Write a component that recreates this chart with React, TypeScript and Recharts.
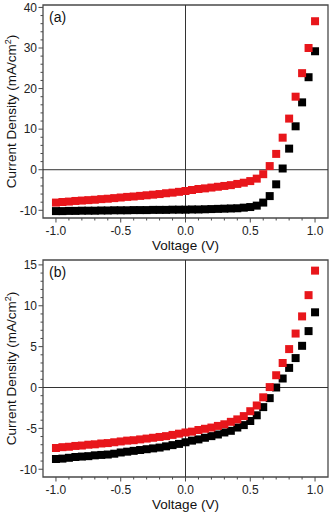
import React from "react";
import {
  ReferenceArea,
  ReferenceLine,
  Scatter,
  ScatterChart,
  XAxis,
  YAxis,
  ZAxis,
} from "recharts";

const voltage = [
  -1.0, -0.95, -0.9, -0.85, -0.8, -0.75, -0.7, -0.65, -0.6, -0.55, -0.5, -0.45,
  -0.4, -0.35, -0.3, -0.25, -0.2, -0.15, -0.1, -0.05, 0.0, 0.05, 0.1, 0.15, 0.2,
  0.25, 0.3, 0.35, 0.4, 0.45, 0.5, 0.55, 0.6, 0.65, 0.7, 0.75, 0.8, 0.85, 0.9,
  0.95, 1.0,
];

// panel (a)
const blackA = [
  -10.2, -10.2, -10.15, -10.15, -10.1, -10.1, -10.1, -10.05, -10.05, -10.0,
  -10.0, -10.0, -9.95, -9.95, -9.95, -9.9, -9.9, -9.9, -9.85, -9.85, -9.85,
  -9.8, -9.8, -9.75, -9.7, -9.65, -9.6, -9.55, -9.5, -9.35, -9.2, -8.85, -8.1,
  -6.5, -3.6, 0.3, 5.2, 10.7, 16.6, 22.8, 29.2,
];
const redA = [
  -8.1, -7.95, -7.85, -7.7, -7.6, -7.5, -7.4, -7.25, -7.15, -7.0, -6.85, -6.7,
  -6.6, -6.45, -6.3, -6.15, -6.0, -5.8, -5.65, -5.45, -5.25, -5.0, -4.75, -4.6,
  -4.4, -4.2, -4.0, -3.8, -3.5, -3.2, -2.8, -2.2, -1.1, 0.9, 3.9, 7.9, 12.6,
  18.0, 23.8, 30.0, 36.6,
];

// panel (b)
const blackB = [
  -8.75, -8.7, -8.6, -8.5, -8.45, -8.4, -8.3, -8.25, -8.2, -8.1, -7.95, -7.85,
  -7.75, -7.65, -7.55, -7.45, -7.35, -7.2, -7.05, -6.9, -6.7, -6.5, -6.35,
  -6.15, -5.95, -5.75, -5.5, -5.3, -4.9, -4.6, -4.1, -3.4, -2.4, -1.3, 0.0, 1.1,
  2.4, 3.6, 5.1, 6.9, 9.2,
];
const redB = [
  -7.4, -7.3, -7.25, -7.15, -7.1, -7.0, -6.95, -6.85, -6.8, -6.7, -6.6, -6.5,
  -6.45, -6.35, -6.25, -6.15, -6.05, -5.95, -5.8, -5.65, -5.5, -5.4, -5.2,
  -5.05, -4.9, -4.7, -4.5, -4.2, -3.9, -3.5, -2.9, -2.2, -1.2, 0.05, 1.5, 3.0,
  4.7, 6.6, 8.7, 11.3, 14.3,
];

const xTicks = [
  -1.0, -0.9, -0.8, -0.7, -0.6, -0.5, -0.4, -0.3, -0.2, -0.1, 0.0, 0.1, 0.2, 0.3,
  0.4, 0.5, 0.6, 0.7, 0.8, 0.9, 1.0,
];
const xMajor = [-1.0, -0.5, 0.0, 0.5, 1.0];
const yTicksA = [
  -10, -8, -6, -4, -2, 0, 2, 4, 6, 8, 10, 12, 14, 16, 18, 20, 22, 24, 26, 28, 30,
  32, 34, 36, 38, 40,
];
const yMajorA = [-10, 0, 10, 20, 30, 40];
const yTicksB = [
  -10, -9, -8, -7, -6, -5, -4, -3, -2, -1, 0, 1, 2, 3, 4, 5, 6, 7, 8, 9, 10, 11,
  12, 13, 14, 15,
];
const yMajorB = [-10, -5, 0, 5, 10, 15];

const FONT = "'Liberation Sans', Arial, sans-serif";
const RED = "#e8161b";
const AXIS = "#4a4a4a";

const isMajor = (v: number, majors: number[]) =>
  majors.some((m) => Math.abs(m - v) < 1e-6);

const fmtX = (v: number) => v.toFixed(1);

const XTick = (props: any) => {
  const { x, y, payload } = props;
  const major = isMajor(payload.value, xMajor);
  return (
    <g>
      <line x1={x} x2={x} y1={y} y2={y + (major ? 4.5 : 2.5)} stroke={AXIS} strokeWidth={1} />
      {major && (
        <text x={x} y={y + 16.5} textAnchor="middle" fontSize={12} fontFamily={FONT} fill="#222">
          {fmtX(payload.value)}
        </text>
      )}
    </g>
  );
};

const makeYTick = (majors: number[]) => (props: any) => {
  const { x, y, payload } = props;
  const major = isMajor(payload.value, majors);
  return (
    <g>
      <line x1={x} x2={x - (major ? 4.5 : 2.5)} y1={y} y2={y} stroke={AXIS} strokeWidth={1} />
      {major && (
        <text x={x - 6} y={y + 4.3} textAnchor="end" fontSize={12} fontFamily={FONT} fill="#222">
          {payload.value}
        </text>
      )}
    </g>
  );
};

interface PanelProps {
  tag: string;
  black: number[];
  red: number[];
  yDomain: [number, number];
  yTicks: number[];
  yMajor: number[];
  top: number;
  xAxisHeight: number;
}

const Panel = ({ tag, black, red, yDomain, yTicks, yMajor, top, xAxisHeight }: PanelProps) => {
  const blackData = voltage.map((v, i) => ({ x: v, y: black[i] }));
  const redData = voltage.map((v, i) => ({ x: v, y: red[i] }));
  const plotTop = top;
  const plotBottom = 257 - xAxisHeight;
  const midY = (plotTop + plotBottom) / 2;
  return (
    <div style={{ position: "relative", width: 331, height: 257 }}>
      <ScatterChart
        width={331}
        height={257}
        margin={{ top: top, right: 3, bottom: 0, left: 0 }}
      >
        <XAxis
          type="number"
          dataKey="x"
          domain={[-1.1, 1.1]}
          ticks={xTicks}
          interval={0}
          allowDataOverflow
          height={xAxisHeight}
          axisLine={false}
          tickLine={false}
          tickSize={0}
          tickMargin={0}
          tick={<XTick />}
        />
        <YAxis
          type="number"
          dataKey="y"
          domain={yDomain}
          ticks={yTicks}
          interval={0}
          allowDataOverflow
          width={43}
          axisLine={false}
          tickLine={false}
          tickSize={0}
          tickMargin={0}
          tick={makeYTick(yMajor)}
        />
        <ZAxis range={[28, 28]} />
        <ReferenceLine y={0} stroke="#333" strokeWidth={1} />
        <ReferenceLine x={0} stroke="#333" strokeWidth={1} />
        <ReferenceArea
          x1={-1.1}
          x2={1.1}
          y1={yDomain[0]}
          y2={yDomain[1]}
          fill="none"
          stroke={AXIS}
          strokeWidth={1.3}
          ifOverflow="visible"
        />
        <Scatter data={blackData} fill="#000" shape="square" isAnimationActive={false} />
        <Scatter data={redData} fill={RED} shape="square" isAnimationActive={false} />
      </ScatterChart>
      <svg
        width={331}
        height={257}
        style={{ position: "absolute", left: 0, top: 0, pointerEvents: "none" }}
      >
        <text x={49} y={top + 17} fontSize={14} fontFamily={FONT} fill="#111">
          {tag}
        </text>
        <text
          x={185.5}
          y={plotBottom + 32}
          textAnchor="middle"
          fontSize={13.5}
          fontFamily={FONT}
          fill="#111"
        >
          Voltage (V)
        </text>
        <text
          x={15.5}
          y={midY}
          textAnchor="middle"
          fontSize={13.5}
          fontFamily={FONT}
          fill="#111"
          transform={`rotate(-90, 15.5, ${midY})`}
        >
          Current Density (mA/cm
          <tspan dy={-5} fontSize={9}>
            2
          </tspan>
          <tspan dy={5}>)</tspan>
        </text>
      </svg>
    </div>
  );
}

export default function App() {
  return (
    <div style={{ position: "absolute", left: 0, top: 0, width: 331, height: 514, background: "#fff" }}>
      <Panel
        tag="(a)"
        black={blackA}
        red={redA}
        yDomain={[-11.9, 40.6]}
        yTicks={yTicksA}
        yMajor={yMajorA}
        top={5}
        xAxisHeight={39}
      />
      <Panel
        tag="(b)"
        black={blackB}
        red={redB}
        yDomain={[-10.95, 15.6]}
        yTicks={yTicksB}
        yMajor={yMajorB}
        top={3}
        xAxisHeight={37}
      />
    </div>
  );
}
